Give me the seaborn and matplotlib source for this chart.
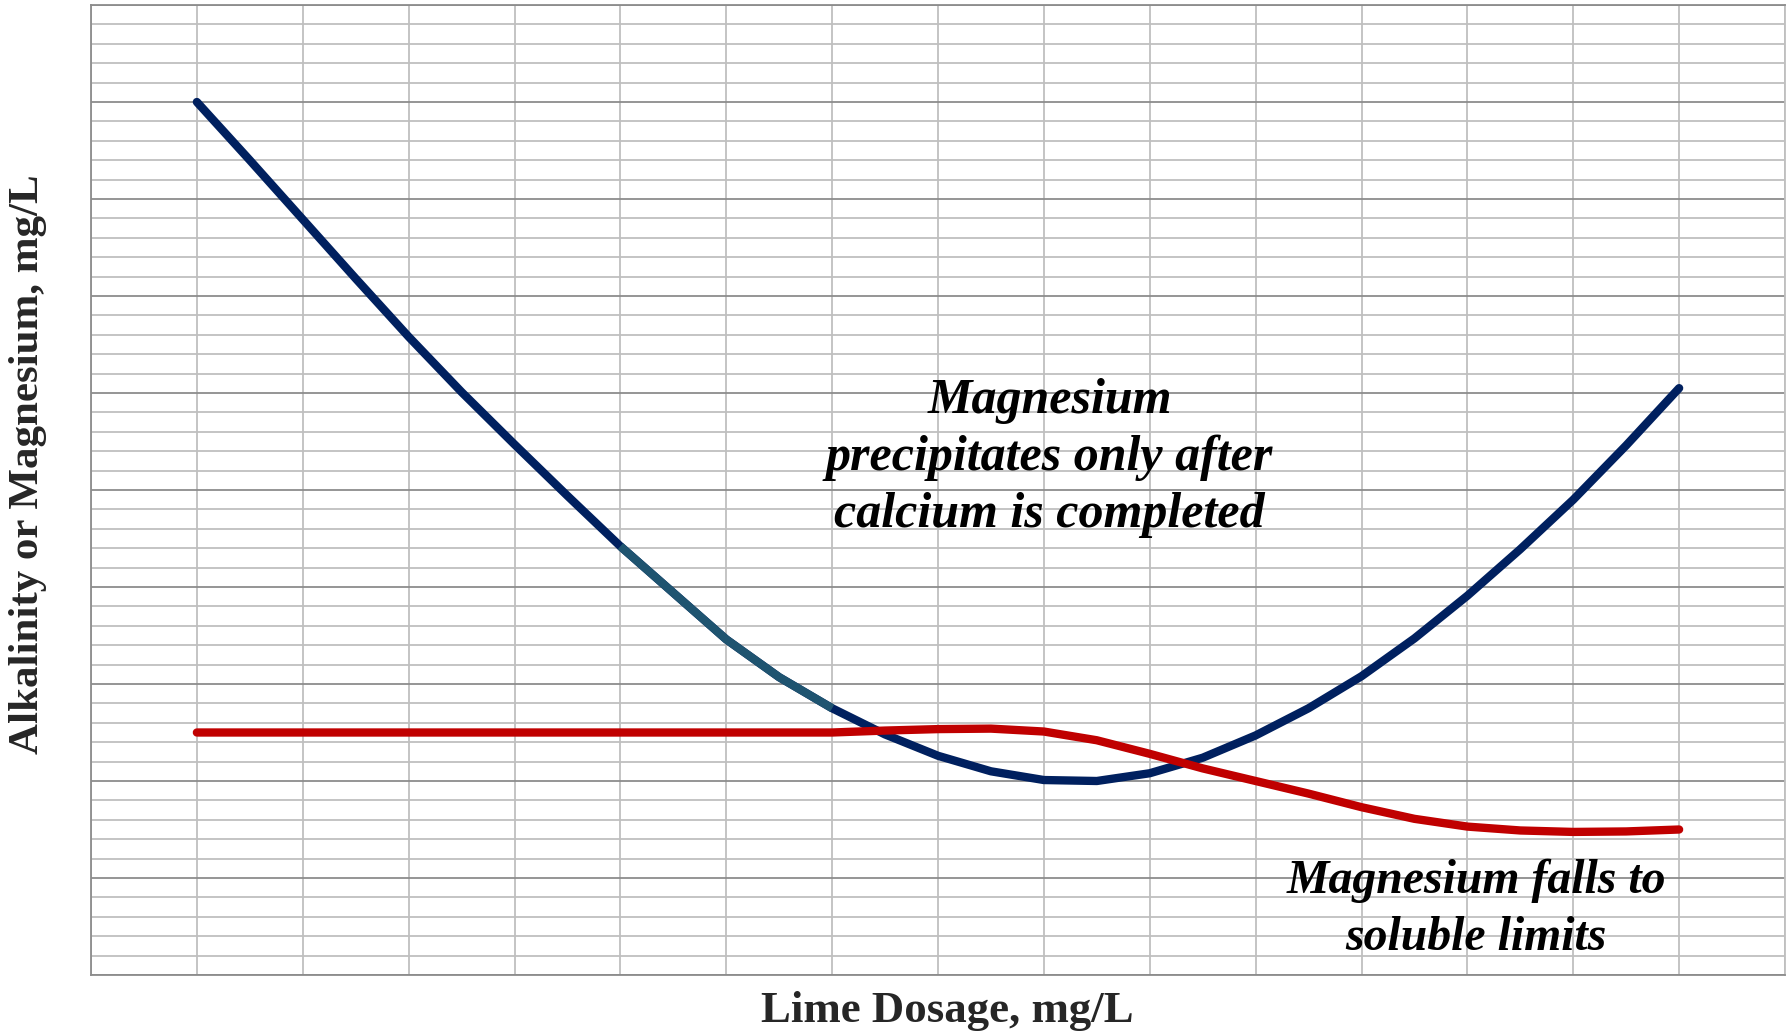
import numpy as np
import pandas as pd
import matplotlib
matplotlib.use("Agg")
import matplotlib.pyplot as plt
import seaborn as sns
from matplotlib.ticker import MultipleLocator

# ---------------- data ----------------
lime_dose = [1, 1.5, 2, 2.5, 3, 3.5, 4, 4.5, 5, 5.5, 6, 6.5, 7, 7.5, 8,
             8.5, 9, 9.5, 10, 10.5, 11, 11.5, 12, 12.5, 13, 13.5, 14, 14.5, 15]
alkalinity = [90.0, 84.0, 77.9, 71.8, 65.8, 60.1, 54.7, 49.4, 44.2, 39.4, 34.6,
              30.7, 27.5, 24.8, 22.6, 21.0, 20.1, 20.0, 20.8, 22.4, 24.7, 27.5,
              30.8, 34.7, 39.1, 43.9, 49.0, 54.6, 60.5]
magnesium = [25.0, 25.0, 25.0, 25.0, 25.0, 25.0, 25.0, 25.0, 25.0, 25.0, 25.0,
             25.0, 25.0, 25.2, 25.35, 25.4, 25.1, 24.2, 22.8, 21.3, 20.0, 18.7,
             17.3, 16.1, 15.3, 14.9, 14.75, 14.8, 15.0]
highlight_range = [5, 7]          # segment of the alkalinity curve drawn in teal

annotation_1 = ["Magnesium", "precipitates only after", "calcium is completed"]
annotation_2 = ["Magnesium falls to", "soluble limits"]
x_label = "Lime Dosage, mg/L"
y_label = "Alkalinity or Magnesium, mg/L"

NAVY = "#00205F"
TEAL = "#1F5470"
RED = "#C00000"
GRID_LIGHT = "#BFBFBF"
GRID_DARK = "#8C8C8C"

sns.set_theme(style="white")
plt.rcParams["font.family"] = ["Liberation Serif", "DejaVu Serif"]

W, H = 1791, 1036
fig = plt.figure(figsize=(W / 100, H / 100), dpi=100)
fig.patch.set_facecolor("white")
L, R, T, B = 91, 1785, 5, 975
ax = fig.add_axes([L / W, (H - B) / H, (R - L) / W, (B - T) / H])
ax.set_facecolor("white")

df = pd.DataFrame({"dose": lime_dose, "alk": alkalinity, "mg": magnesium})
seg = df[(df["dose"] >= highlight_range[0]) & (df["dose"] <= highlight_range[1])]

LW = 6.0
sns.lineplot(data=df, x="dose", y="alk", color=NAVY, linewidth=LW, ax=ax,
             solid_capstyle="round", solid_joinstyle="round", zorder=3)
sns.lineplot(data=seg, x="dose", y="alk", color=TEAL, linewidth=LW, ax=ax,
             solid_capstyle="butt", solid_joinstyle="round", zorder=4)
sns.lineplot(data=df, x="dose", y="mg", color=RED, linewidth=LW, ax=ax,
             solid_capstyle="round", solid_joinstyle="round", zorder=5)

ax.set_xlim(0, 16)
ax.set_ylim(0, 100)
ax.xaxis.set_major_locator(MultipleLocator(1))
ax.yaxis.set_major_locator(MultipleLocator(10))
ax.yaxis.set_minor_locator(MultipleLocator(2))
ax.set_axisbelow(True)
ax.grid(which="major", axis="x", color=GRID_LIGHT, linewidth=1.3)
ax.grid(which="minor", axis="y", color=GRID_LIGHT, linewidth=1.3)
ax.grid(which="major", axis="y", color=GRID_DARK, linewidth=1.3)
ax.tick_params(which="both", length=0, labelbottom=False, labelleft=False)

for side in ["left", "bottom", "top"]:
    ax.spines[side].set_color(GRID_DARK)
    ax.spines[side].set_linewidth(1.3)
ax.spines["right"].set_color(GRID_LIGHT)
ax.spines["right"].set_linewidth(1.3)

# axis labels
ax.set_xlabel(x_label, fontsize=30, fontweight="bold")
ax.set_ylabel(y_label, fontsize=30, fontweight="bold")
ax.xaxis.label.set_verticalalignment("center")
ax.yaxis.label.set_verticalalignment("center")
ax.xaxis.set_label_coords((947 - L) / (R - L), (B - 1011) / (B - T))
ax.yaxis.set_label_coords((28.5 - L) / (R - L), (B - 464) / (B - T))

# annotations: one text per line, on measured baselines
def px_to_data(px, py):
    return (px - L) / (R - L) * 16, (B - py) / (B - T) * 100

ann_texts = []
for lines, cx, baselines in [(annotation_1, 1049.5, [413, 470, 527]),
                             (annotation_2, 1476, [892.7, 950])]:
    group = []
    for line, by in zip(lines, baselines):
        x, y = px_to_data(cx, by)
        t = ax.text(x, y, line, ha="center", va="baseline", fontsize=30,
                    fontweight="bold", fontstyle="italic", color="black", zorder=6)
        group.append(t)
    ann_texts.append(group)

# fit font sizes to the measured widths of the reference
fig.canvas.draw()
rend = fig.canvas.get_renderer()

def scale_to(texts, ref, target, vertical=False):
    bb = ref.get_window_extent(rend)
    cur = bb.height if vertical else bb.width
    s = target / cur
    for t in texts:
        t.set_fontsize(t.get_fontsize() * s)

scale_to(ann_texts[0], ann_texts[0][1], 448)
scale_to(ann_texts[1], ann_texts[1][0], 380)
scale_to([ax.xaxis.label], ax.xaxis.label, 373)
scale_to([ax.yaxis.label], ax.yaxis.label, 580, vertical=True)

fig.savefig("out.png", dpi=100, facecolor="white")
